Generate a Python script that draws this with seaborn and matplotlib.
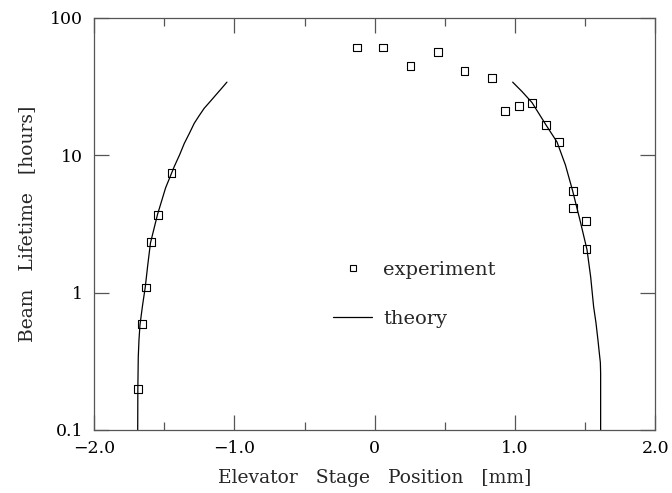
import numpy as np
import pandas as pd
import matplotlib
matplotlib.use("Agg")
import matplotlib.pyplot as plt
import matplotlib.ticker as mticker
from matplotlib.lines import Line2D
import seaborn as sns

# measured beam lifetime (hours) vs elevator stage position (mm)
exp_x = [-1.686, -1.661, -1.632, -1.594, -1.545, -1.448,
         -0.123, 0.062, 0.256, 0.451, 0.641, 0.835, 0.930, 1.027,
         1.120, 1.222, 1.314, 1.414, 1.411, 1.506, 1.510]
exp_y = [0.199, 0.589, 1.09, 2.35, 3.68, 7.41,
         60.9, 60.9, 44.8, 56.4, 41.4, 36.8, 20.9, 23.0,
         24.1, 16.6, 12.5, 5.53, 4.12, 3.31, 2.08]

# theory curve, two branches
theory_left_x = [-1.689, -1.688, -1.685, -1.680, -1.673, -1.655, -1.635, -1.617,
                 -1.598, -1.548, -1.490, -1.428, -1.390, -1.357, -1.320, -1.286,
                 -1.250, -1.215, -1.170, -1.132, -1.090, -1.053]
theory_left_y = [0.1, 0.2, 0.34, 0.45, 0.58, 0.8, 1.1, 1.6,
                 2.3, 3.7, 5.8, 8.3, 10.1, 12.2, 14.5, 17.1,
                 19.5, 22.0, 24.8, 27.5, 30.8, 34.1]
theory_right_x = [0.984, 1.051, 1.122, 1.222, 1.300, 1.360, 1.411, 1.466,
                  1.514, 1.540, 1.561, 1.578, 1.592, 1.602, 1.609, 1.611, 1.611]
theory_right_y = [34.1, 29.1, 24.2, 16.6, 12.5, 8.5, 5.53, 3.3,
                  2.05, 1.3, 0.79, 0.6, 0.45, 0.36, 0.31, 0.26, 0.1]

x_ticks = [-2.0, -1.0, 0.0, 1.0, 2.0]
x_tick_labels = ["\u22122.0", "\u22121.0", "0", "1.0", "2.0"]
y_ticks = [0.1, 1, 10, 100]
y_tick_labels = ["0.1", "1", "10", "100"]

sns.set_theme(style="ticks")
plt.rcParams["font.family"] = ["DejaVu Serif"]

fig, ax = plt.subplots(figsize=(6.72, 4.93), dpi=100)
fig.subplots_adjust(left=0.140, right=0.975, top=0.9635, bottom=0.128)

df_exp = pd.DataFrame({"x": exp_x, "y": exp_y})
df_left = pd.DataFrame({"x": theory_left_x, "y": theory_left_y})
df_right = pd.DataFrame({"x": theory_right_x, "y": theory_right_y})

for d in (df_left, df_right):
    sns.lineplot(data=d, x="x", y="y", sort=False, estimator=None,
                 color="black", linewidth=0.9, ax=ax)
sns.scatterplot(data=df_exp, x="x", y="y", marker="s", s=32,
                facecolor="none", edgecolor="black", linewidth=0.8, ax=ax)

ax.set_yscale("log")
ax.set_xlim(-2.0, 2.0)
ax.set_ylim(0.1, 100)
ax.xaxis.set_major_locator(mticker.FixedLocator(x_ticks))
ax.xaxis.set_major_formatter(mticker.FixedFormatter(x_tick_labels))
ax.xaxis.set_minor_locator(mticker.MultipleLocator(0.5))
ax.yaxis.set_major_locator(mticker.FixedLocator(y_ticks))
ax.yaxis.set_major_formatter(mticker.FixedFormatter(y_tick_labels))
ax.yaxis.set_minor_locator(mticker.NullLocator())

ax.tick_params(which="both", direction="in", top=True, right=True,
               color="#555555", width=0.9, labelsize=12.5, labelcolor="black")
ax.tick_params(which="major", length=11)
ax.tick_params(which="minor", length=6)
ax.tick_params(axis="x", pad=7)
ax.tick_params(axis="y", pad=8)
for sp in ax.spines.values():
    sp.set_visible(True)
    sp.set_color("#555555")
    sp.set_linewidth(0.9)

ax.set_xlabel("Elevator   Stage   Position   [mm]", fontsize=13.5, labelpad=9)
ax.set_ylabel("Beam   Lifetime   [hours]", fontsize=13.5, labelpad=10)

handles = [
    Line2D([], [], marker="s", linestyle="none", markersize=5,
           markerfacecolor="none", markeredgecolor="black", markeredgewidth=0.8),
    Line2D([], [], color="black", linewidth=0.9),
]
ax.legend(handles, ["experiment", "theory"], loc="center left",
          bbox_to_anchor=(0.426, 0.329), frameon=False, fontsize=14,
          handlelength=2.0, handletextpad=0.57, labelspacing=1.6,
          borderpad=0, borderaxespad=0)

plt.savefig("out.png", dpi=100)
